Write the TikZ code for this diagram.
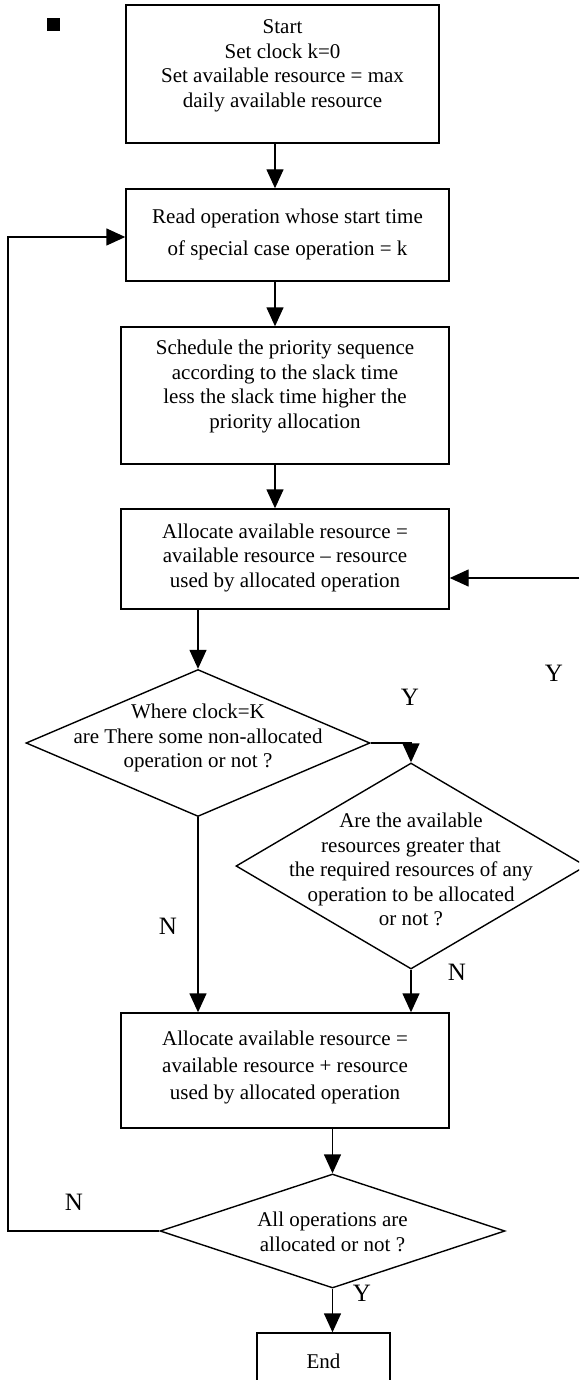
\documentclass[tikz,border=0pt]{standalone}
\usepackage{fontspec}
\setmainfont{Liberation Serif}
\usetikzlibrary{shapes.geometric,arrows.meta}
\begin{document}
\begin{tikzpicture}[x=1pt,y=-1pt,
  line width=1.4pt,
  box/.style={draw=black, rectangle, inner sep=0pt},
  dia/.style={draw=black, diamond, inner sep=0pt},
  txt/.style={align=center, inner sep=0pt, font=\fontsize{21}{24.5}\selectfont},
  lbl/.style={inner sep=0pt, font=\fontsize{25}{30}\selectfont},
  arr/.style={-{Triangle[length=19pt,width=17pt]}},
]
\useasboundingbox (0,0) rectangle (579,1380);
\clip (0,0) rectangle (579,1380);

\node[fill=black, minimum size=13pt, inner sep=0pt] (sq) at (53.5,24.5) {};

\node[box, minimum width=313pt, minimum height=138pt] (b1) at (282.5,74) {};
\node[txt] (t1) at (282.5,66) {Start\\Set clock k=0\\Set available resource = max\\daily available resource};

\node[box, minimum width=323pt, minimum height=92pt] (b2) at (287.5,235) {};
\node[txt, font=\fontsize{21}{32}\selectfont] (t2) at (287.5,234) {Read operation whose start time\\of special case operation = k};

\node[box, minimum width=328pt, minimum height=137pt] (b3) at (285,395.5) {};
\node[txt] (t3) at (285,386.5) {Schedule the priority sequence\\according to the slack time\\less the slack time higher the\\priority allocation};

\node[box, minimum width=328pt, minimum height=100pt] (b4) at (285,559) {};
\node[txt] (t4) at (285,557.5) {Allocate available resource =\\available resource – resource\\used by allocated operation};

\node[dia, minimum width=344pt, minimum height=147pt] (d1) at (198,743) {};
\node[txt] (td1) at (198,738) {Where clock=K\\are There some non-allocated\\operation or not ?};

\node[dia, minimum width=350pt, minimum height=206pt] (d2) at (411,866) {};
\node[txt] (td2) at (411,869.5) {Are the available\\resources greater that\\the required resources of any\\operation to be allocated\\or not ?};

\node[box, minimum width=328pt, minimum height=115pt] (b5) at (285,1070.5) {};
\node[txt, font=\fontsize{21}{27}\selectfont] (t5) at (285,1067) {Allocate available resource =\\available resource + resource\\used by allocated operation};

\node[dia, minimum width=345pt, minimum height=114pt] (d3) at (332.5,1231) {};
\node[txt] (td3) at (332.5,1232) {All operations are\\allocated or not ?};

\node[box, txt, minimum width=133pt, minimum height=56pt] (e) at (323.5,1361) {End};

\coordinate (cx) at (275,0);
\coordinate (re) at (579,578);
\coordinate (lp) at (8,237);

\draw[arr] (b1.south -| cx) -- (b2.north -| cx);
\draw[arr] (b2.south -| cx) -- (b3.north -| cx);
\draw[arr] (b3.south -| cx) -- (b4.north -| cx);
\draw[arr] (b4.south -| d1.north) -- (d1.north);
\draw[arr] (d1.east) -| (d2.north);
\draw[arr] (re) -- (re -| b4.east);
\draw[arr] (d1.south) -- (d1.south |- b5.north);
\draw[arr] (d2.south) -- (d2.south |- b5.north);
\draw[arr] (b5.south -| d3.north) -- (d3.north);
\draw[arr] (d3.south) -- (d3.south |- e.north);
\draw[arr] (d3.west) -| (lp) -- (lp -| b2.west);

\node[lbl] (y1) at (410,697) {Y};
\node[lbl] (y2) at (554,673) {Y};
\node[lbl] (n1) at (168,926) {N};
\node[lbl] (n2) at (457,972) {N};
\node[lbl] (n3) at (74,1202) {N};
\node[lbl] (y3) at (362,1293) {Y};
\end{tikzpicture}
\end{document}
